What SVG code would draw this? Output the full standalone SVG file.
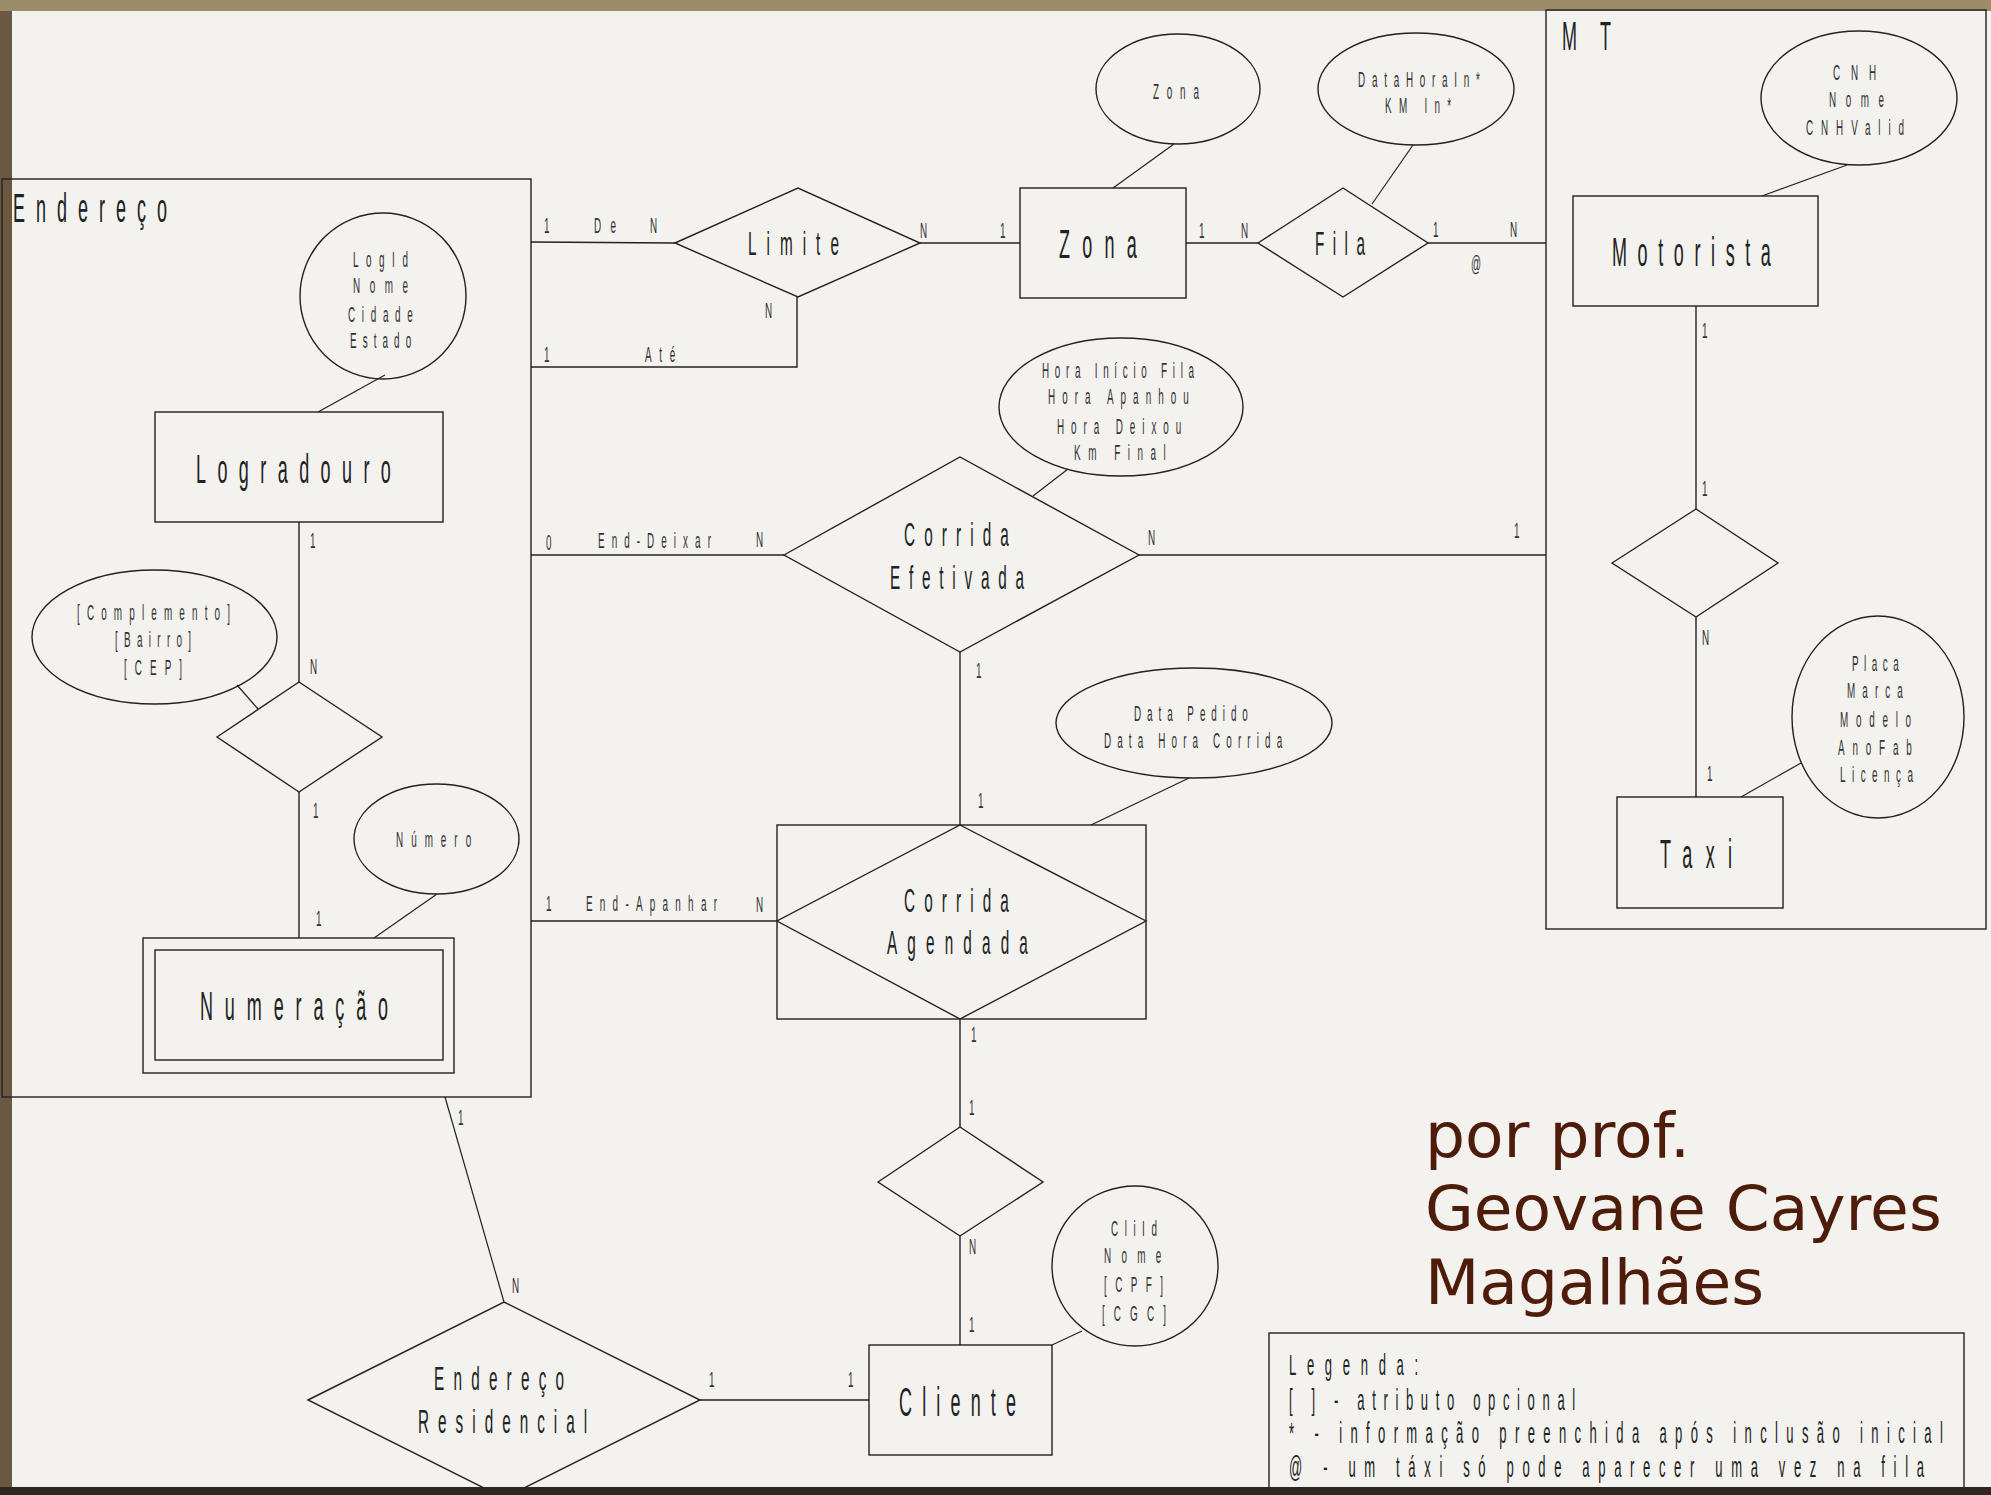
<svg xmlns="http://www.w3.org/2000/svg" width="1991" height="1495" viewBox="0 0 1991 1495">
<defs>
<linearGradient id="frame" x1="0" y1="0" x2="0" y2="1">
<stop offset="0" stop-color="#9a8a68"/>
<stop offset="0.5" stop-color="#6e5b40"/>
<stop offset="1" stop-color="#3a2e26"/>
</linearGradient>
<style>
.s{fill:none;stroke:#222;stroke-width:1.4}
.k{fill:none;stroke:#222;stroke-width:1.2}
text{font-family:"Liberation Sans",Arial,sans-serif;fill:#222}
.e{font-size:40px}
.r{font-size:34px}
.a{font-size:22px;fill:#333}
.c{font-size:22px;fill:#333}
.g{font-size:29px}
.au{font-family:"DejaVu Sans",Verdana,sans-serif;font-size:63px;fill:#4e1c0a}
</style>
</defs>
<rect x="0" y="0" width="1991" height="1495" fill="url(#frame)"/>
<rect x="0" y="0" width="1991" height="11" fill="#9c8c6a"/>
<rect x="0" y="11" width="12" height="1476" fill="#6a5840"/>
<rect x="12" y="11" width="1979" height="1476" fill="#f3f2ee"/>

<g id="cluster-endereco">
<rect class="s" x="2" y="179" width="529" height="918"/>
<text class="e" transform="translate(13 222) scale(.45 1)" textLength="342">Endereço</text>
</g>
<g id="cluster-mt">
<rect class="s" x="1546" y="10" width="440" height="919"/>
<text class="e" transform="translate(1562 50) scale(.45 1)" textLength="109">MT</text>
</g>

<g id="connectors">
<line class="k" x1="385" y1="375" x2="318" y2="412"/>
<line class="k" x1="1174" y1="144" x2="1113" y2="188"/>
<line class="k" x1="1413" y1="145" x2="1372" y2="204"/>
<line class="k" x1="1847" y1="165" x2="1762" y2="196"/>
<line class="k" x1="1801" y1="763" x2="1741" y2="797"/>
<line class="k" x1="1068" y1="469" x2="1033" y2="496"/>
<line class="k" x1="1189" y1="778" x2="1091" y2="825"/>
<line class="k" x1="237" y1="685" x2="258" y2="709"/>
<line class="k" x1="437" y1="894" x2="374" y2="938"/>
<line class="k" x1="1082" y1="1331" x2="1052" y2="1345"/>
<line class="s" x1="531" y1="242" x2="675" y2="243"/>
<polyline class="s" points="531,367 797,367 797,297"/>
<line class="s" x1="920" y1="243" x2="1020" y2="243"/>
<line class="s" x1="1186" y1="243" x2="1258" y2="243"/>
<line class="s" x1="1428" y1="243" x2="1546" y2="243"/>
<line class="s" x1="1696" y1="306" x2="1696" y2="509"/>
<line class="s" x1="1696" y1="617" x2="1696" y2="797"/>
<line class="s" x1="531" y1="555" x2="784" y2="555"/>
<line class="s" x1="1139" y1="555" x2="1546" y2="555"/>
<line class="s" x1="960" y1="652" x2="960" y2="825"/>
<line class="s" x1="531" y1="921" x2="777" y2="921"/>
<line class="s" x1="299" y1="522" x2="299" y2="682"/>
<line class="s" x1="299" y1="792" x2="299" y2="938"/>
<line class="k" x1="445" y1="1097" x2="504" y2="1302"/>
<line class="s" x1="700" y1="1400" x2="869" y2="1400"/>
<line class="s" x1="960" y1="1019" x2="960" y2="1127"/>
<line class="s" x1="960" y1="1236" x2="960" y2="1345"/>
<text class="c" transform="translate(544 233) scale(.45 1)">1</text>
<text class="c" transform="translate(594 233) scale(.45 1)" textLength="49">De</text>
<text class="c" transform="translate(650 233) scale(.45 1)">N</text>
<text class="c" transform="translate(544 362) scale(.45 1)">1</text>
<text class="c" transform="translate(645 362) scale(.45 1)" textLength="67">Até</text>
<text class="c" transform="translate(765 318) scale(.45 1)">N</text>
<text class="c" transform="translate(920 238) scale(.45 1)">N</text>
<text class="c" transform="translate(1000 238) scale(.45 1)">1</text>
<text class="c" transform="translate(1199 238) scale(.45 1)">1</text>
<text class="c" transform="translate(1241 238) scale(.45 1)">N</text>
<text class="c" transform="translate(1433 237) scale(.45 1)">1</text>
<text class="c" transform="translate(1510 237) scale(.45 1)">N</text>
<text class="c" transform="translate(1471 271) scale(.45 1)">@</text>
<text class="c" transform="translate(1702 338) scale(.45 1)">1</text>
<text class="c" transform="translate(1702 496) scale(.45 1)">1</text>
<text class="c" transform="translate(1702 645) scale(.45 1)">N</text>
<text class="c" transform="translate(1707 781) scale(.45 1)">1</text>
<text class="c" transform="translate(546 550) scale(.45 1)">0</text>
<text class="c" transform="translate(598 548) scale(.45 1)" textLength="251">End-Deixar</text>
<text class="c" transform="translate(756 547) scale(.45 1)">N</text>
<text class="c" transform="translate(1148 545) scale(.45 1)">N</text>
<text class="c" transform="translate(1514 538) scale(.45 1)">1</text>
<text class="c" transform="translate(976 678) scale(.45 1)">1</text>
<text class="c" transform="translate(978 808) scale(.45 1)">1</text>
<text class="c" transform="translate(546 911) scale(.45 1)">1</text>
<text class="c" transform="translate(586 911) scale(.45 1)" textLength="291">End-Apanhar</text>
<text class="c" transform="translate(756 912) scale(.45 1)">N</text>
<text class="c" transform="translate(310 548) scale(.45 1)">1</text>
<text class="c" transform="translate(310 674) scale(.45 1)">N</text>
<text class="c" transform="translate(313 818) scale(.45 1)">1</text>
<text class="c" transform="translate(316 926) scale(.45 1)">1</text>
<text class="c" transform="translate(458 1125) scale(.45 1)">1</text>
<text class="c" transform="translate(512 1293) scale(.45 1)">N</text>
<text class="c" transform="translate(709 1387) scale(.45 1)">1</text>
<text class="c" transform="translate(848 1387) scale(.45 1)">1</text>
<text class="c" transform="translate(971 1042) scale(.45 1)">1</text>
<text class="c" transform="translate(969 1115) scale(.45 1)">1</text>
<text class="c" transform="translate(969 1254) scale(.45 1)">N</text>
<text class="c" transform="translate(969 1332) scale(.45 1)">1</text>
</g>

<g id="logradouro">
<rect class="s" x="155" y="412" width="288" height="110"/>
<text class="e" transform="translate(196 483) scale(.45 1)" textLength="433">Logradouro</text>
</g>
<g id="attr-logradouro">
<ellipse class="s" cx="383" cy="296" rx="83" ry="83"/>
<text class="a" transform="translate(353 267) scale(.45 1)" textLength="122">LogId</text>
<text class="a" transform="translate(353 293) scale(.45 1)" textLength="122">Nome</text>
<text class="a" transform="translate(348 322) scale(.45 1)" textLength="144">Cidade</text>
<text class="a" transform="translate(350 348) scale(.45 1)" textLength="136">Estado</text>
</g>
<g id="rel-logradouro-numeracao">
<polygon class="s" points="217,737 299,682 382,737 299,792"/>
</g>
<g id="attr-complemento">
<ellipse class="s" cx="154.5" cy="637" rx="122.5" ry="67"/>
<text class="a" transform="translate(77 620) scale(.45 1)" textLength="340">[Complemento]</text>
<text class="a" transform="translate(115 647) scale(.45 1)" textLength="169">[Bairro]</text>
<text class="a" transform="translate(124 675) scale(.45 1)" textLength="129">[CEP]</text>
</g>
<g id="attr-numero">
<ellipse class="s" cx="436.5" cy="839" rx="82.5" ry="55"/>
<text class="a" transform="translate(396 847) scale(.45 1)" textLength="167">Número</text>
</g>
<g id="numeracao">
<rect class="s" x="143" y="938" width="311" height="135"/>
<rect class="s" x="155" y="950" width="288" height="110" stroke-width="1.8"/>
<text class="e" transform="translate(200 1020) scale(.45 1)" textLength="418">Numeração</text>
</g>

<g id="limite">
<polygon class="s" points="675,243 798,188 920,243 798,297"/>
<text class="r" transform="translate(748 255) scale(.45 1)" textLength="202">Limite</text>
</g>
<g id="zona">
<rect class="s" x="1020" y="188" width="166" height="110"/>
<text class="e" transform="translate(1059 258) scale(.45 1)" textLength="173">Zona</text>
</g>
<g id="attr-zona">
<ellipse class="s" cx="1178" cy="89" rx="82" ry="55"/>
<text class="a" transform="translate(1153 99) scale(.45 1)" textLength="102">Zona</text>
</g>
<g id="fila">
<polygon class="s" points="1258,243 1343,188 1428,243 1343,297"/>
<text class="r" transform="translate(1315 255) scale(.45 1)" textLength="111">Fila</text>
</g>
<g id="attr-fila">
<ellipse class="s" cx="1416" cy="89" rx="98" ry="56"/>
<text class="a" transform="translate(1358 87) scale(.45 1)" textLength="271">DataHoraIn*</text>
<text class="a" transform="translate(1385 113) scale(.45 1)" textLength="147">KM In*</text>
</g>

<g id="motorista">
<rect class="s" x="1573" y="196" width="245" height="110"/>
<text class="e" transform="translate(1612 266) scale(.45 1)" textLength="353">Motorista</text>
</g>
<g id="attr-motorista">
<ellipse class="s" cx="1859" cy="98" rx="98" ry="67"/>
<text class="a" transform="translate(1833 80) scale(.45 1)" textLength="96">CNH</text>
<text class="a" transform="translate(1829 107) scale(.45 1)" textLength="122">Nome</text>
<text class="a" transform="translate(1806 135) scale(.45 1)" textLength="218">CNHValid</text>
</g>
<g id="rel-motorista-taxi">
<polygon class="s" points="1612,563 1696,509 1778,563 1696,617"/>
</g>
<g id="taxi">
<rect class="s" x="1617" y="797" width="166" height="111"/>
<text class="e" transform="translate(1660 868) scale(.45 1)" textLength="160">Taxi</text>
</g>
<g id="attr-taxi">
<ellipse class="s" cx="1878" cy="717" rx="86" ry="101"/>
<text class="a" transform="translate(1852 671) scale(.45 1)" textLength="104">Placa</text>
<text class="a" transform="translate(1847 698) scale(.45 1)" textLength="124">Marca</text>
<text class="a" transform="translate(1840 727) scale(.45 1)" textLength="158">Modelo</text>
<text class="a" transform="translate(1838 755) scale(.45 1)" textLength="164">AnoFab</text>
<text class="a" transform="translate(1840 782) scale(.45 1)" textLength="162">Licença</text>
</g>

<g id="corrida-efetivada">
<polygon class="s" points="784,555 960,457 1139,555 960,652"/>
<text class="r" transform="translate(904 546) scale(.45 1)" textLength="233">Corrida</text>
<text class="r" transform="translate(890 589) scale(.45 1)" textLength="298">Efetivada</text>
</g>
<g id="attr-corrida-efetivada">
<ellipse class="s" cx="1121" cy="407" rx="122" ry="69"/>
<text class="a" transform="translate(1042 378) scale(.45 1)" textLength="338">Hora Início Fila</text>
<text class="a" transform="translate(1048 404) scale(.45 1)" textLength="313">Hora Apanhou</text>
<text class="a" transform="translate(1057 434) scale(.45 1)" textLength="276">Hora Deixou</text>
<text class="a" transform="translate(1074 460) scale(.45 1)" textLength="204">Km Final</text>
</g>
<g id="corrida-agendada">
<rect class="s" x="777" y="825" width="369" height="194"/>
<polygon class="s" points="960,825 1146,921 960,1019 777,921"/>
<text class="r" transform="translate(904 912) scale(.45 1)" textLength="233">Corrida</text>
<text class="r" transform="translate(887 954) scale(.45 1)" textLength="313">Agendada</text>
</g>
<g id="attr-corrida-agendada">
<ellipse class="s" cx="1194" cy="723" rx="138" ry="55"/>
<text class="a" transform="translate(1134 721) scale(.45 1)" textLength="253">Data Pedido</text>
<text class="a" transform="translate(1104 748) scale(.45 1)" textLength="396">Data Hora Corrida</text>
</g>
<g id="rel-agendada-cliente">
<polygon class="s" points="878,1182 960,1127 1043,1182 960,1236"/>
</g>
<g id="cliente">
<rect class="s" x="869" y="1345" width="183" height="110"/>
<text class="e" transform="translate(899 1416) scale(.45 1)" textLength="260">Cliente</text>
</g>
<g id="attr-cliente">
<ellipse class="s" cx="1135" cy="1266" rx="83" ry="80"/>
<text class="a" transform="translate(1111 1236) scale(.45 1)" textLength="102">CliId</text>
<text class="a" transform="translate(1104 1263) scale(.45 1)" textLength="127">Nome</text>
<text class="a" transform="translate(1104 1292) scale(.45 1)" textLength="131">[CPF]</text>
<text class="a" transform="translate(1102 1321) scale(.45 1)" textLength="142">[CGC]</text>
</g>
<g id="endereco-residencial">
<polygon class="s" points="308,1400 504,1302 700,1400 504,1498"/>
<text class="r" transform="translate(434 1390) scale(.45 1)" textLength="289">Endereço</text>
<text class="r" transform="translate(418 1433) scale(.45 1)" textLength="376">Residencial</text>
</g>

<g id="author">
<text class="au" x="1425" y="1157">por prof.</text>
<text class="au" x="1425" y="1230">Geovane Cayres</text>
<text class="au" x="1425" y="1304">Magalhães</text>
</g>
<g id="legend">
<rect class="s" x="1269" y="1333" width="695" height="170"/>
<text class="g" transform="translate(1289 1375) scale(.45 1)" textLength="287">Legenda:</text>
<text class="g" transform="translate(1289 1410) scale(.45 1)" textLength="636">[ ] - atributo opcional</text>
<text class="g" transform="translate(1289 1443) scale(.45 1)" textLength="1453">* - informação preenchida após inclusão inicial</text>
<text class="g" transform="translate(1289 1477) scale(.45 1)" textLength="1411">@ - um táxi só pode aparecer uma vez na fila</text>
</g>
<rect x="0" y="1487" width="1991" height="8" fill="#2e2622" opacity="0.92"/>
</svg>
